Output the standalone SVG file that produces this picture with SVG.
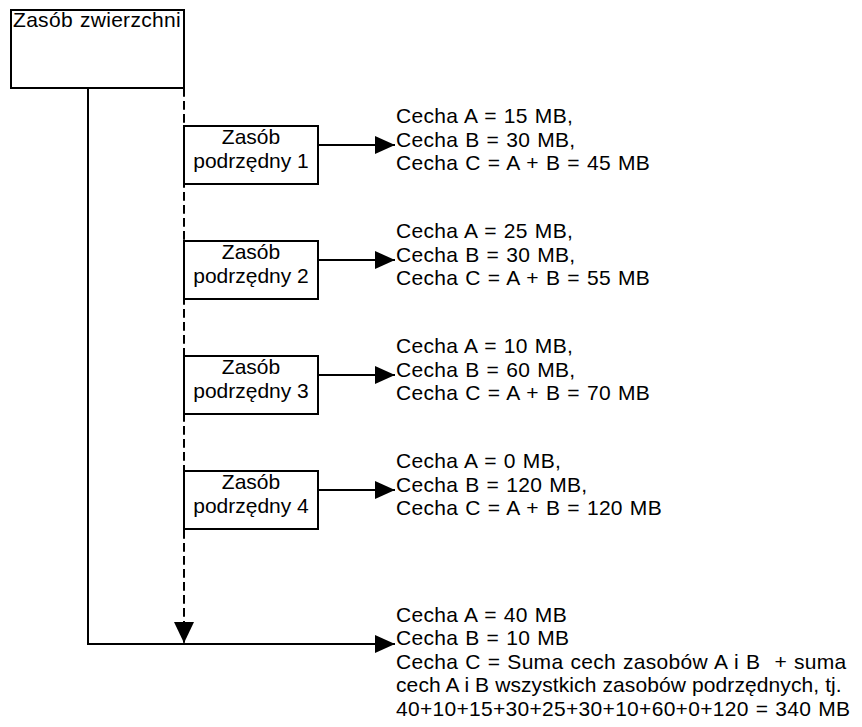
<svg xmlns="http://www.w3.org/2000/svg" width="862" height="727" viewBox="0 0 862 727">
<defs>
<style>
.box{fill:#fff;stroke:#000;stroke-width:2}
.t{font-family:"Liberation Sans",Arial,sans-serif;font-size:21px;letter-spacing:0.3px;word-spacing:0.9px;fill:#000}
.c{text-anchor:middle;letter-spacing:0;word-spacing:0}
.ln{fill:none;stroke:#000;stroke-width:2}
.dash{stroke-dasharray:8.7 4.3}
</style>
<marker id="ah" viewBox="0 0 20 18" refX="20" refY="9" markerWidth="20" markerHeight="18" markerUnits="userSpaceOnUse" orient="auto">
<path d="M0,0 L20,9 L0,18 Z" fill="#000"/>
</marker>
<marker id="ahv" viewBox="0 0 21 20" refX="21" refY="10" markerWidth="21" markerHeight="20" markerUnits="userSpaceOnUse" orient="auto">
<path d="M0,0 L21,10 L0,20 Z" fill="#000"/>
</marker>
</defs>
<rect width="862" height="727" fill="#fff"/>
<g id="connectors">
<path class="ln dash" d="M184,88 V643" marker-end="url(#ahv)"/>
<path class="ln" d="M88,88 V644 H395" marker-end="url(#ah)"/>
<path class="ln" d="M318,145 H395" marker-end="url(#ah)"/>
<path class="ln" d="M318,260 H395" marker-end="url(#ah)"/>
<path class="ln" d="M318,375 H395" marker-end="url(#ah)"/>
<path class="ln" d="M318,490 H395" marker-end="url(#ah)"/>
</g>
<g id="zasob-zwierzchni">
<rect class="box" x="11" y="10" width="173" height="78"/>
<text class="t" x="13" y="27">Zasób zwierzchni</text>
</g>
<g id="podrzedny-1">
<rect class="box" x="184" y="126" width="134" height="58"/>
<text class="t c" x="251" y="144">Zasób</text>
<text class="t c" x="251" y="168">podrzędny 1</text>
</g>
<g id="podrzedny-2">
<rect class="box" x="184" y="241" width="134" height="58"/>
<text class="t c" x="251" y="259">Zasób</text>
<text class="t c" x="251" y="283">podrzędny 2</text>
</g>
<g id="podrzedny-3">
<rect class="box" x="184" y="356" width="134" height="58"/>
<text class="t c" x="251" y="374">Zasób</text>
<text class="t c" x="251" y="398">podrzędny 3</text>
</g>
<g id="podrzedny-4">
<rect class="box" x="184" y="471" width="134" height="58"/>
<text class="t c" x="251" y="489">Zasób</text>
<text class="t c" x="251" y="513">podrzędny 4</text>
</g>
<g id="cechy-1">
<text class="t" x="396" y="123">Cecha A = 15 MB,</text>
<text class="t" x="396" y="146.5">Cecha B = 30 MB,</text>
<text class="t" x="396" y="170">Cecha C = A + B = 45 MB</text>
</g>
<g id="cechy-2">
<text class="t" x="396" y="238">Cecha A = 25 MB,</text>
<text class="t" x="396" y="261.5">Cecha B = 30 MB,</text>
<text class="t" x="396" y="285">Cecha C = A + B = 55 MB</text>
</g>
<g id="cechy-3">
<text class="t" x="396" y="353">Cecha A = 10 MB,</text>
<text class="t" x="396" y="376.5">Cecha B = 60 MB,</text>
<text class="t" x="396" y="400">Cecha C = A + B = 70 MB</text>
</g>
<g id="cechy-4">
<text class="t" x="396" y="468">Cecha A = 0 MB,</text>
<text class="t" x="396" y="491.5">Cecha B = 120 MB,</text>
<text class="t" x="396" y="515">Cecha C = A + B = 120 MB</text>
</g>
<g id="cechy-zwierzchni">
<text class="t" x="396" y="621.5">Cecha A = 40 MB</text>
<text class="t" x="396" y="645">Cecha B = 10 MB</text>
<text class="t" x="396" y="668.5" style="white-space:pre">Cecha C = Suma cech zasobów A i B  + suma</text>
<text class="t" x="396" y="692" style="letter-spacing:0.1px;word-spacing:0">cech A i B wszystkich zasobów podrzędnych, tj.</text>
<text class="t" x="396" y="715.5">40+10+15+30+25+30+10+60+0+120 = 340 MB</text>
</g>
</svg>
